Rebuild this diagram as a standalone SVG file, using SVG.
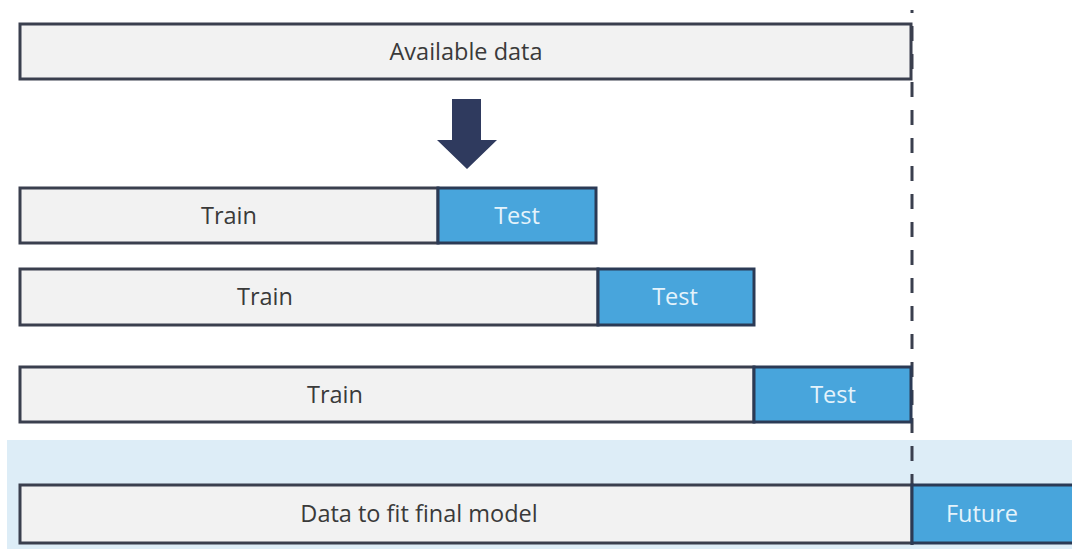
<svg xmlns="http://www.w3.org/2000/svg" width="1072" height="549" viewBox="0 0 1072 549">
<style>
.box{fill:#f2f2f2;stroke:#3a3f4e;stroke-width:3}
.test{fill:#48a5dc;stroke:#2b3a55;stroke-width:3}
.lbl{font-family:"Open Sans","Liberation Sans",sans-serif;font-size:23.5px;fill:#3a3a3a;text-anchor:middle}
.tl{font-family:"Open Sans","Liberation Sans",sans-serif;font-size:23.5px;fill:#e4f3fb;text-anchor:middle}
</style>
<rect x="0" y="0" width="1072" height="549" fill="#ffffff"/>
<rect id="band" x="7" y="440" width="1065" height="109" fill="#ddedf7"/>
<g id="connectors">
<line x1="912" y1="10" x2="912" y2="549" stroke="#3a3f4e" stroke-width="3" stroke-dasharray="15 13" stroke-dashoffset="12"/>
</g>
<g id="available">
<rect class="box" x="20" y="24" width="891" height="55"/>
<text class="lbl" x="466" y="60">Available data</text>
</g>
<g id="arrow">
<polygon points="452,99 481,99 481,140 497,140 467,169 437,140 452,140" fill="#2f3a5e"/>
</g>
<g id="row1">
<rect class="box" x="20" y="188" width="418" height="55"/>
<rect class="test" x="438" y="188" width="158" height="55"/>
<text class="lbl" x="229" y="224">Train</text>
<text class="tl" x="517" y="224">Test</text>
</g>
<g id="row2">
<rect class="box" x="20" y="269" width="578" height="56"/>
<rect class="test" x="598" y="269" width="156" height="56"/>
<text class="lbl" x="265" y="305">Train</text>
<text class="tl" x="675" y="305">Test</text>
</g>
<g id="row3">
<rect class="box" x="20" y="367" width="734" height="55"/>
<rect class="test" x="754" y="367" width="157" height="55"/>
<text class="lbl" x="335" y="403">Train</text>
<text class="tl" x="833" y="403">Test</text>
</g>
<g id="final">
<rect class="box" x="20" y="485" width="892" height="58"/>
<rect class="test" x="912" y="485" width="163" height="58"/>
<text class="lbl" x="419" y="522">Data to fit final model</text>
<text class="tl" x="982" y="522">Future</text>
</g>
</svg>
